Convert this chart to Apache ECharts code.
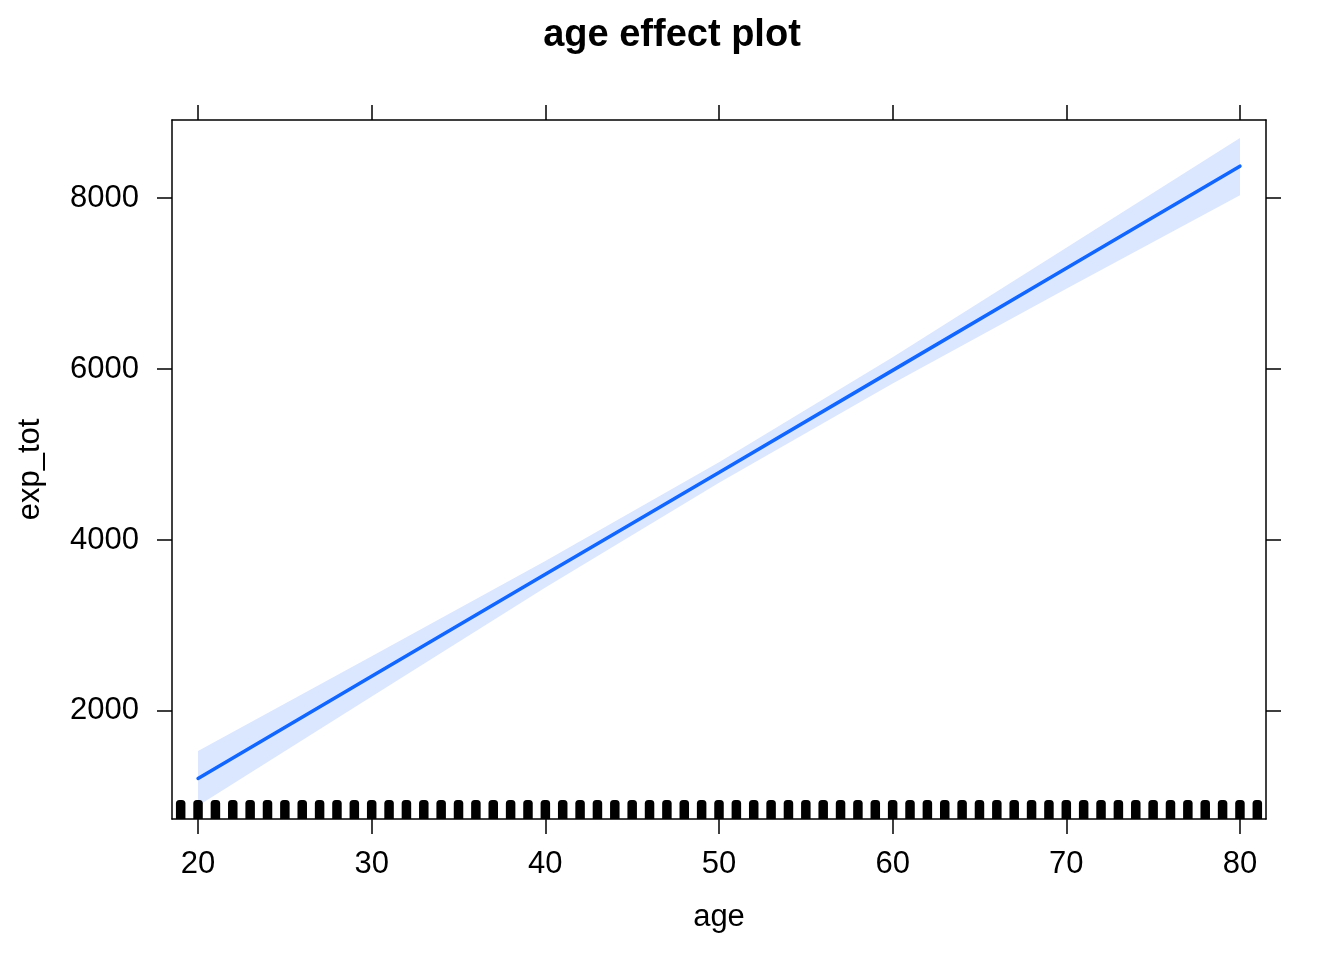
<!DOCTYPE html>
<html>
<head>
<meta charset="utf-8">
<script src="https://cdn.jsdelivr.net/npm/echarts@6/dist/echarts.min.js"></script>
<style>html,body{margin:0;padding:0;background:#fff}#c{width:1344px;height:960px}</style>
</head>
<body>
<div id="c"></div>
<script>
const ages = [20, 30, 40, 50, 60, 70, 80];
const fitValues = [1210, 2405, 3600, 4790, 5985, 7180, 8375];
const upperValues = [1530, 2640, 3755, 4910, 6140, 7420, 8705];
const lowerValues = [890, 2170, 3445, 4670, 5830, 6940, 8035];
const rugAges = [19,20,21,22,23,24,25,26,27,28,29,30,31,32,33,34,35,36,37,38,39,40,41,42,43,44,45,46,47,48,49,50,51,52,53,54,55,56,57,58,59,60,61,62,63,64,65,66,67,68,69,70,71,72,73,74,75,76,77,78,79,80,81];
const xTicks = [20, 30, 40, 50, 60, 70, 80];
const yTicks = [2000, 4000, 6000, 8000];

const X_MIN = 18.5, X_MAX = 81.5, Y_MIN = 735, Y_MAX = 8915;
const FONT = 'Liberation Sans, Arial, Helvetica, sans-serif';
const LABEL_SIZE = 31;
const axisLineStyle = { show: true, lineStyle: { color: '#000', width: 1.5 } };
const tickStyle = { show: true, inside: false, length: 15, lineStyle: { color: '#000', width: 1.5 } };

const bandRows = ages.map((a, i) => [a, lowerValues[i], upperValues[i]]);

const chart = echarts.init(document.getElementById('c'), null, { renderer: 'canvas' });
chart.setOption({
  backgroundColor: '#fff',
  animation: false,
  title: {
    text: 'age effect plot', left: 'center', top: 12,
    textStyle: { fontFamily: FONT, fontSize: 38, fontWeight: 'bold', color: '#000' }
  },
  grid: { left: 172, right: 78, top: 120, bottom: 141, containLabel: false },
  xAxis: [
    {
      type: 'value', min: X_MIN, max: X_MAX, position: 'bottom',
      name: 'age', nameLocation: 'middle', nameGap: 83,
      nameTextStyle: { fontFamily: FONT, fontSize: LABEL_SIZE, color: '#000' },
      axisLine: axisLineStyle,
      axisTick: Object.assign({}, tickStyle, { customValues: xTicks }),
      axisLabel: { customValues: xTicks, fontFamily: FONT, fontSize: LABEL_SIZE, color: '#000', margin: 30 },
      splitLine: { show: false }
    },
    {
      type: 'value', min: X_MIN, max: X_MAX, position: 'top',
      axisLine: axisLineStyle,
      axisTick: Object.assign({}, tickStyle, { customValues: xTicks }),
      axisLabel: { show: false },
      splitLine: { show: false }
    }
  ],
  yAxis: [
    {
      type: 'value', min: Y_MIN, max: Y_MAX, position: 'left',
      name: 'exp_tot', nameLocation: 'middle', nameGap: 126, nameRotate: 90,
      nameTextStyle: { fontFamily: FONT, fontSize: LABEL_SIZE, color: '#000' },
      axisLine: axisLineStyle,
      axisTick: Object.assign({}, tickStyle, { customValues: yTicks }),
      axisLabel: { customValues: yTicks, fontFamily: FONT, fontSize: LABEL_SIZE, color: '#000', margin: 33,
        formatter: function (v) { return String(v); } },
      splitLine: { show: false }
    },
    {
      type: 'value', min: Y_MIN, max: Y_MAX, position: 'right',
      axisLine: axisLineStyle,
      axisTick: Object.assign({}, tickStyle, { customValues: yTicks }),
      axisLabel: { show: false },
      splitLine: { show: false }
    }
  ],
  series: [
    {
      name: 'band', type: 'custom', z: 1, silent: true,
      data: bandRows,
      renderItem: function (params, api) {
        if (params.dataIndex !== 0) return null;
        const top = bandRows.map(r => api.coord([r[0], r[2]]));
        const bottom = bandRows.slice().reverse().map(r => api.coord([r[0], r[1]]));
        return {
          type: 'polygon',
          shape: { points: top.concat(bottom) },
          style: { fill: '#DBE6FF' }
        };
      }
    },
    {
      name: 'fit', type: 'line', symbol: 'none',
      data: ages.map((a, i) => [a, fitValues[i]]),
      lineStyle: { color: '#1166FF', width: 3.5, cap: 'round' }, z: 3
    },
    {
      name: 'rug', type: 'custom', clip: false, z: 4,
      data: rugAges.map(a => [a]),
      renderItem: function (params, api) {
        const p = api.coord([api.value(0), Y_MIN]);
        return {
          type: 'rect',
          shape: { x: p[0] - 4.75, y: p[1] - 19, width: 9.5, height: 19, r: [3.5, 3.5, 0, 0] },
          style: { fill: '#000' }
        };
      }
    }
  ]
});
</script>
</body>
</html>
